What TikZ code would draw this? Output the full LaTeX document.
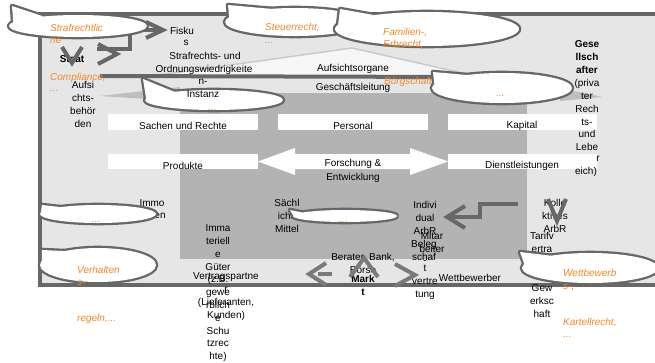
\documentclass[tikz,border=0pt]{standalone}
\usepackage{fontspec}
\setmainfont{Liberation Sans}
\definecolor{dk}{HTML}{676767}
\definecolor{lt}{HTML}{E6E6E6}
\definecolor{md}{HTML}{B3B3B3}
\definecolor{org}{HTML}{F0882A}
\definecolor{ch}{HTML}{7A7A7A}
\tikzset{
  t/.style={font=\fontsize{10}{12.8}\selectfont, inner sep=0pt, align=center},
  tb/.style={t, font=\fontsize{10}{12.8}\selectfont\bfseries},
  o/.style={inner sep=0pt, anchor=west, text=org, font=\fontsize{10}{12.8}\selectfont\itshape},
  chev/.style={draw=dk, line width=4pt, line join=miter, line cap=butt},
  chevl/.style={draw=ch, line width=4pt, line join=miter, line cap=butt},
  barbox/.style={fill=white},
}
\newcommand\stack[4][]{\node[t,anchor=north,#1] at (#2,{#3-5.4}) {\strut #4};}
% cx cy rx ry tipx tipy angle1 angle2
\newcommand\speech[8]{%
  \filldraw[dk, line width=4.6pt, line join=round] (#1,#2) ellipse [x radius=#3pt, y radius=#4pt];
  \filldraw[dk, line width=4.6pt, line join=round] ({#1+#3*cos(#7)},{#2+#4*sin(#7)}) -- (#5,#6) -- ({#1+#3*cos(#8)},{#2+#4*sin(#8)}) -- cycle;
  \fill[white] (#1,#2) ellipse [x radius=#3pt, y radius=#4pt];
  \fill[white] ({#1+#3*cos(#7)},{#2+#4*sin(#7)}) -- (#5,#6) -- ({#1+#3*cos(#8)},{#2+#4*sin(#8)}) -- cycle;
}
\begin{document}
\begin{tikzpicture}[x=1pt,y=-1pt]
\useasboundingbox (0,0) rectangle (655,362);
% frame and regions
\fill[lt] (40,14) rectangle (655,285);
\fill[md] (180,93) rectangle (527,259);
\filldraw[fill=white!65!lt, draw=dk!35, line width=1.5pt, line join=round] (145,77) -- (352,48) -- (480,77) -- cycle;
\fill[md!85!white] (100,96) -- (180,87) -- (180,101) -- cycle;
\fill[md!85!white] (602,97) -- (560,88) -- (560,101) -- cycle;
\draw[dk, line width=4pt] (100,76) -- (470,77);
\draw[dk, line width=4pt] (40,14) -- (655,14);
\draw[dk, line width=4pt] (40,12) -- (40,287);
\draw[dk, line width=4pt] (38,285) -- (655,285);
% white bars
\fill[barbox] (108,114) rectangle (258,130);
\fill[barbox] (278,114) rectangle (428,130);
\fill[barbox] (448,114) rectangle (597,130);
\fill[barbox] (108,154) rectangle (258,169);
\fill[barbox] (448,154) rectangle (597,169);
\fill[barbox] (258,161.5) -- (295,148) -- (295,154) -- (410,154) -- (410,148) -- (448,161.5) -- (410,175) -- (410,169) -- (295,169) -- (295,175) -- cycle;
% black texts
\node[t] (fisk1) at (182,31) {Fisku};
\node[t] (fisk2) at (186,43) {s};
\node[t] (str1) at (205,56) {Strafrechts- und};
\node[t] (str2) at (204,70) {Ordnungswiedrigkeite};
\node[tb] (staat) at (72,59) {Staat};
\stack{83}{85}{Aufsi\\chts-\\behör\\den}
\node[t] (ao) at (353,69) {Aufsichtsorgane};
\node[t] (gl) at (353,88) {Geschäftsleitung};
\stack[font=\fontsize{10}{12.8}\selectfont\bfseries]{587}{44}{Gese\\llsch\\after}
\stack{587}{83}{(priva\\ter\\Rech\\ts-\\und\\Lebe}
\node[t] (rr) at (598,159) {r};
\node[t] (eich) at (586,172) {eich)};
\node[t] (sur) at (183,126) {Sachen und Rechte};
\node[t] (pers) at (353,126) {Personal};
\node[t] (kap) at (522,126) {Kapital};
\node[t] (prod) at (183,166) {Produkte};
\node[t] (dl) at (522,166) {Dienstleistungen};
\node[t] (fe1) at (353,164) {Forschung \&};
\node[t] (fe2) at (353,178) {Entwicklung};
\node[t] (immo1) at (152,203) {Immo};
\node[t] (immo2) at (160,216) {en};
\stack{287}{203}{Sächl\\iche\\Mittel}
\stack{218}{228}{Imma\\teriell\\e\\Güter\\(z.B.\\gewe\\rblich\\e\\Schu\\tzrec\\hte)}
\stack{226}{276}{Vertragspartne\\r\\(Lieferanten,\\Kunden)}
\stack{363}{257}{Berater, Bank,\\Börse}
\stack[font=\fontsize{10}{12.8}\selectfont\bfseries]{363}{279}{Mark\\t}
\stack{425}{205}{Indivi\\dual\\ArbR}
\stack{432}{236}{Mitar\\beiter}
\stack{424}{244}{Beleg\\schaf}
\node[t] (dash) at (425,262) {-};
\stack{425}{268}{t\\vertre\\tung}
\node[t] (wb) at (470,278) {Wettbewerber};
\stack{555}{203}{Kolle\\ktives\\ArbR}
\stack{542}{236}{Tarifv\\ertra\\g}
\stack{542}{288}{Gew\\erksc\\haft}
\node[o] (bue) at (384,82) {Bürgschaften,};
% arrows
\draw[chev] (97,49) -- (130,49) -- (130,30) -- (158,30);
\draw[chev] (146,22) -- (163,30) -- (146,38);
\draw[chev] (62,47) -- (72,63) -- (82,47);
\draw[chev] (98,44) -- (117,54) -- (98,64);
\draw[chev] (518,204) -- (480,204) -- (480,217) -- (450,217);
\draw[chev] (465,206) -- (447,217) -- (465,228);
\draw[chev] (548,199) -- (557,221) -- (566,199);
\draw[chevl] (326,263) -- (309,274) -- (326,285);
\draw[chevl] (318,274) -- (332,274);
\draw[chevl] (395,264) -- (415,275) -- (395,286);
\draw[chevl] (350,277) -- (364,258) -- (378,277);
% speech bubbles
\speech{78}{26}{69}{11}{12}{6}{200}{240}
\speech{295}{22}{70}{14}{228}{5}{200}{250}
\speech{427}{29}{92}{17}{340}{9}{195}{235}
\speech{502}{88}{70}{15}{433}{72}{195}{240}
\speech{214}{100}{69}{10}{143}{79}{190}{235}
\speech{345}{216}{52}{6}{290}{210}{185}{215}
\speech{98}{214}{58}{9}{42}{205}{190}{230}
\speech{98}{265}{58}{17}{42}{250}{195}{235}
\speech{590}{268}{68}{15}{520}{252}{195}{235}
% texts over bubbles
\node[t] (n1) at (203,82) {n-};
\node[t] (inst) at (203,94) {Instanz};
% orange texts
\node[o] (o1) at (50,28) {Strafrechtlic};
\node[o] (o2) at (50,40) {he};
\node[o] (o3) at (50,78) {Compliance,};
\node[o] (o4) at (50,91) {...};
\node[o] (o5) at (265,28) {Steuerrecht,};
\node[o] (o6) at (265,43) {...};
\node[o] (o7) at (383,33) {Familien-,};
\node[o] (o8) at (383,45) {Erbrecht,};
\node[o] (o9) at (496,96) {...};
\node[o] (o10) at (208,110) {...};
\node[o] (o11) at (339,222) {...};
\node[o] (o12) at (92,222) {...};
\node[o] (o13) at (77,270) {Verhalten};
\node[o] (o14) at (77,283) {s-};
\node[o] (o15) at (77,319) {regeln,...};
\node[o] (o16) at (563,273) {Wettbewerb};
\node[o] (o17) at (563,287) {s-,};
\node[o] (o18) at (563,323) {Kartellrecht,};
\node[o] (o19) at (563,337) {...};
\end{tikzpicture}
\end{document}
